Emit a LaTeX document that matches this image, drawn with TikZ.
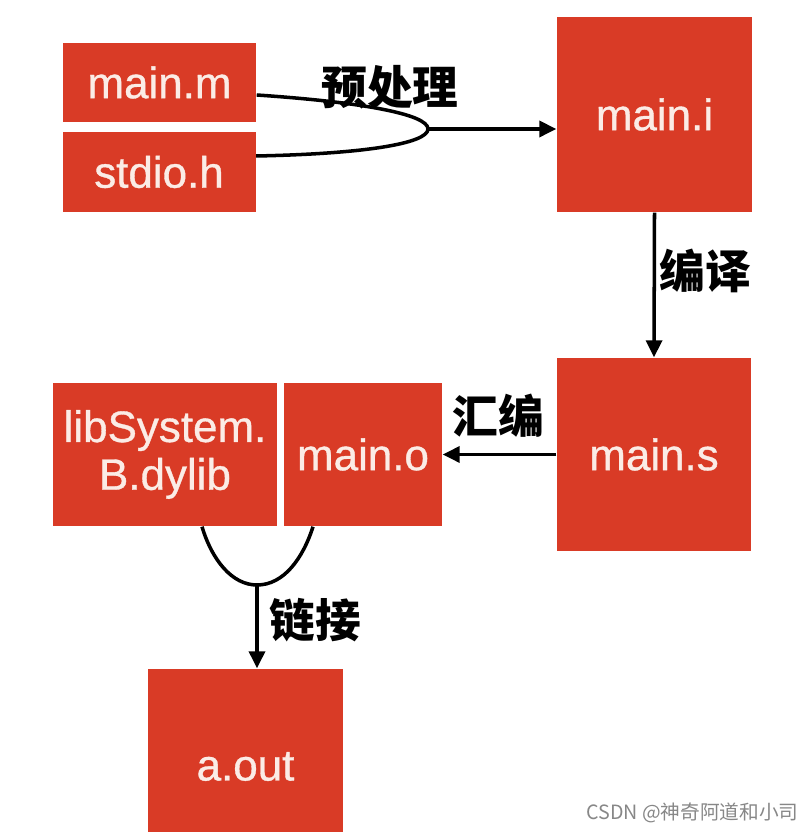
\documentclass[tikz,border=0pt]{standalone}
\usepackage{fontspec}
\setmainfont{Liberation Sans}
\newfontfamily\boxfont{Liberation Sans}[FakeBold=0.8]
\newfontfamily\cjk{Noto Sans CJK SC}
\usepackage{tikz}
\usetikzlibrary{arrows.meta,calc}
\usepackage{xcolor}
\definecolor{boxred}{RGB}{217,59,38}
\definecolor{boxtext}{RGB}{251,236,230}
\definecolor{markgray}{RGB}{135,135,135}

\begin{document}
\begin{tikzpicture}[
    box/.style={fill=boxred,inner sep=0pt,align=center,text=boxtext,font=\boxfont\fontsize{12.5}{13.6}\selectfont},
    lbl/.style={inner sep=0pt,font=\cjk\bfseries\fontsize{13}{14}\selectfont},
    wmark/.style={inner sep=0pt,text=markgray,font=\cjk\fontsize{5.6}{6}\selectfont},
    >={Triangle[length=1.7mm,width=1.6mm]}
]
\clip (0,0) rectangle (8.12,8.32);
% files
\node[box,minimum width=1.93cm,minimum height=0.79cm] (mainm) at (1.595,7.495) {main.m};
\node[box,minimum width=1.93cm,minimum height=0.80cm] (stdio) at (1.59,6.60) {stdio.h};
\node[box,minimum width=1.95cm,minimum height=1.95cm] (maini) at (6.545,7.175) {main.i};
\node[box,minimum width=1.94cm,minimum height=1.93cm] (mains) at (6.54,3.775) {main.s};
\node[box,minimum width=2.24cm,minimum height=1.43cm] (libsys) at (1.65,3.775) {libSystem.\\B.dylib};
\node[box,minimum width=1.58cm,minimum height=1.43cm] (maino) at (3.63,3.775) {main.o};
\node[box,minimum width=1.95cm,minimum height=1.95cm] (aout) at (2.455,0.655) {a.out};
% steps
\node[lbl] (pre) at (3.90,7.45) {预处理};
\node[lbl] (comp) at (7.05,5.61) {编译};
\node[lbl] (asm) at (4.98,4.16) {汇编};
\node[lbl] (link) at (3.15,2.12) {链接};
\coordinate (prejoin) at (4.28,7.03);
\coordinate (linkjoin) at (2.57,2.47);
\draw[line width=1pt] ($(mainm.east)+(0,-0.125)$) .. controls (3.6,7.30) and (4.28,7.18) .. (prejoin)
    .. controls (4.28,6.88) and (3.6,6.78) .. ($(stdio.east)+(0,0.16)$);
\draw[->,line width=1pt] (prejoin) -- (prejoin -| maini.west);
\draw[->,line width=1pt] (maini.south) -- (mains.north);
\draw[->,line width=1pt] (mains.west) -- (maino.east);
\draw[line width=1pt] ($(libsys.south)+(0.37,0)$) .. controls (2.12,2.72) and (2.32,2.47) .. (linkjoin)
    .. controls (2.84,2.47) and (3.03,2.74) .. ($(maino.south)+(-0.50,0)$);
\draw[->,line width=1pt] (linkjoin) -- (linkjoin |- aout.north);
\node[wmark] (csdn) at (6.925,0.19) {CSDN @神奇阿道和小司};
\end{tikzpicture}
\end{document}
